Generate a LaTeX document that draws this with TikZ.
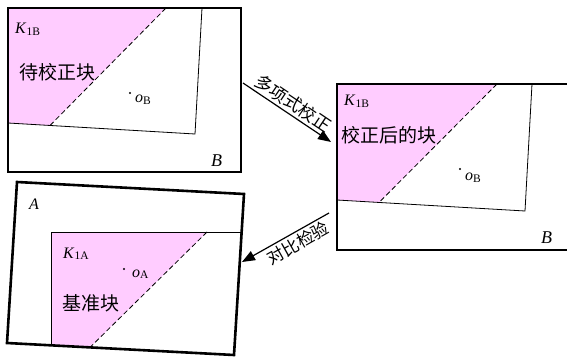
\documentclass[tikz,border=0pt]{standalone}
\usepackage{fontspec}
\setmainfont{Liberation Serif}
\newfontfamily\cjk{Noto Sans CJK SC}
\usetikzlibrary{arrows.meta}
\definecolor{pinkfill}{HTML}{FFCCFF}
\newcommand{\sublbl}[1]{\raisebox{-1.5pt}{\fontsize{11.5}{12}\selectfont #1}}
\tikzset{
  outerbox/.style={line width=2.6pt, line join=miter},
  innerbox/.style={line width=0.8pt},
  cut/.style={line width=0.8pt, dash pattern=on 5pt off 3pt},
  region/.style={fill=pinkfill, draw=none},
  lbl/.style={inner sep=0pt, font=\fontsize{16}{18}\selectfont},
  biglbl/.style={inner sep=0pt, font=\fontsize{18}{20}\selectfont},
  cjklbl/.style={inner sep=0pt, font=\cjk\fontsize{19}{21}\selectfont},
  arrlbl/.style={inner sep=2.5pt, font=\cjk\fontsize{17.5}{19}\selectfont},
  flow/.style={line width=1.2pt, -{Triangle[length=13pt,width=10pt]}},
  centre/.style={circle, fill=black, inner sep=0pt, minimum size=2.4pt},
}
\begin{document}
\begin{tikzpicture}[x=1pt,y=-1pt]
\useasboundingbox (0,0) rectangle (567,358);
\clip (0,0) rectangle (567,358);

% ---------- Box 1 (top left) ----------
\fill[region] (8,8) -- (166,8) -- (50,125.5) -- (8,123) -- cycle;
\draw[innerbox] (8,8) -- (202,8) -- (195,134) -- (8,123);
\draw[cut] (166,8) -- (50,125.5);
\draw[outerbox] (8,8) rectangle (241,172);
\node[lbl, anchor=base west] (k1) at (15,34) {\textit{K}\sublbl{1B}};
\node[cjklbl] (t1) at (57,72) {待校正块};
\node[centre] (c1) at (130,93) {};
\node[lbl, anchor=base west] (o1) at (135,103) {\textit{o}\sublbl{B}};
\node[biglbl, anchor=base west] (b1) at (211,167) {\textit{B}};

% ---------- Box 2 (right) ----------
\fill[region] (337,84) -- (497,84) -- (379,202.5) -- (337,200) -- cycle;
\draw[innerbox] (337,84) -- (532,84) -- (525,211) -- (337,200);
\draw[cut] (497,84) -- (379,202.5);
\draw[outerbox] (337,84) rectangle (590,250);
\node[lbl, anchor=base west] (k2) at (344,106) {\textit{K}\sublbl{1B}};
\node[cjklbl] (t2) at (389,135) {校正后的块};
\node[centre] (c2) at (460,169) {};
\node[lbl, anchor=base west] (o2) at (465,181) {\textit{o}\sublbl{B}};
\node[biglbl, anchor=base west] (b2) at (541,243) {\textit{B}};

% ---------- Box 3 (bottom left) ----------
\fill[region] (51,232) -- (207,232) -- (90,347.4) -- (51,345.3) -- cycle;
\draw[innerbox] (241.6,232) -- (51,232) -- (51,345.3);
\draw[cut] (207,232) -- (90,347.4);
\draw[outerbox] (17,182) -- (244,194) -- (234,355) -- (7,343) -- cycle;
\node[lbl, anchor=base west] (a3) at (29,209) {\textit{A}};
\node[lbl, anchor=base west] (k3) at (63,258) {\textit{K}\sublbl{1A}};
\node[centre] (c3) at (124,269) {};
\node[lbl, anchor=base west] (o3) at (132,277) {\textit{o}\sublbl{A}};
\node[cjklbl] (t3) at (91,303) {基准块};

% ---------- Arrows ----------
\coordinate (p1s) at (243,83);
\coordinate (p1e) at (331,142);
\draw[flow] (p1s) -- node[arrlbl, pos=0.5, above, sloped] (l1) {多项式校正} (p1e);

\coordinate (p2s) at (329,213);
\coordinate (p2e) at (242,262);
\draw[flow] (p2s) -- node[arrlbl, pos=0.42, below, sloped, font=\cjk\fontsize{17}{19}\selectfont] (l2) {对比检验} (p2e);
\end{tikzpicture}
\end{document}
